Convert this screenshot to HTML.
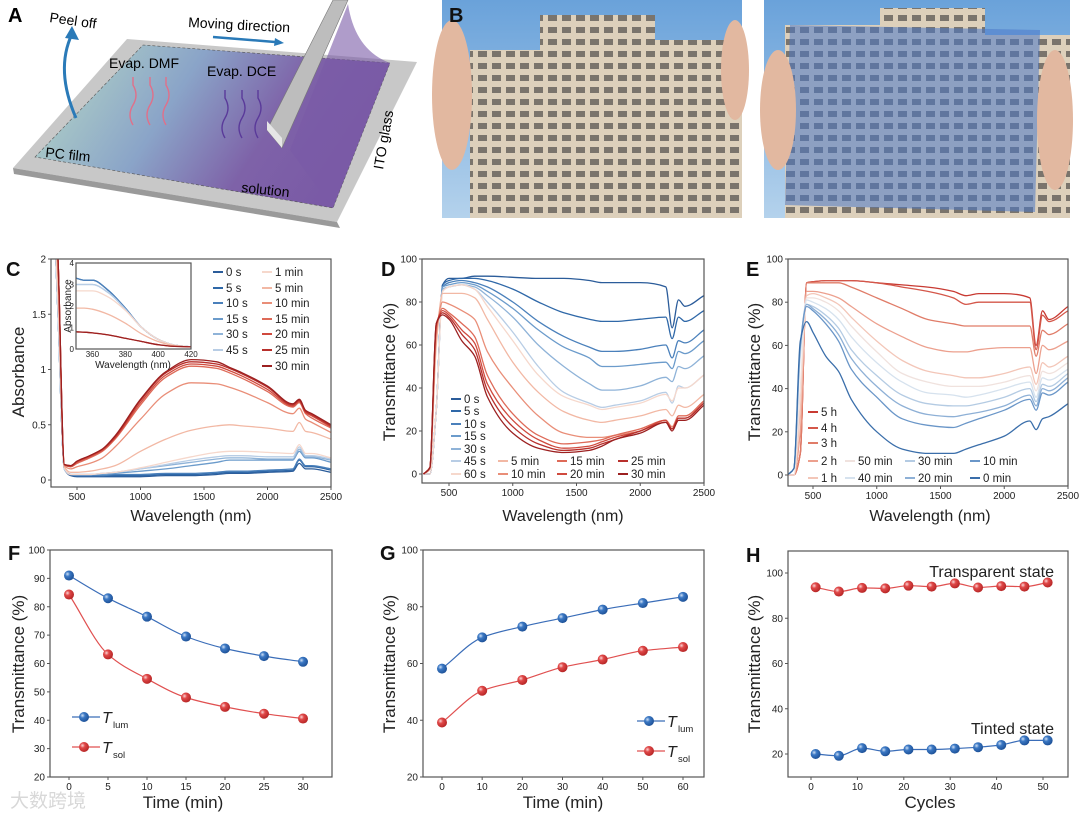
<!DOCTYPE html>
<html><head><meta charset="utf-8"><style>
html,body{margin:0;padding:0;background:#fff;}
svg{display:block;font-family:"Liberation Sans",Arial,sans-serif;}
</style></head><body>
<svg id="fig" width="1080" height="816" viewBox="0 0 1080 816">
<defs>
<linearGradient id="filmg" x1="0" y1="0" x2="1" y2="0.3"><stop offset="0" stop-color="#b9dcc6"/><stop offset="0.45" stop-color="#8aa4c8"/><stop offset="0.75" stop-color="#7e62a8"/><stop offset="1" stop-color="#7a5aa6"/></linearGradient>
<linearGradient id="skyg" x1="0" y1="0" x2="0" y2="1"><stop offset="0" stop-color="#6aa2da"/><stop offset="1" stop-color="#b4d2ec"/></linearGradient>
<pattern id="win" width="14" height="12" patternUnits="userSpaceOnUse"><rect width="14" height="12" fill="#ddd0bb"/><rect x="2" y="3" width="9" height="6" fill="#7a746c"/></pattern>
<radialGradient id="ballB" cx="0.35" cy="0.35" r="0.7"><stop offset="0" stop-color="#cfe0f5"/><stop offset="0.35" stop-color="#3b78c4"/><stop offset="1" stop-color="#1c4f95"/></radialGradient>
<radialGradient id="ballR" cx="0.35" cy="0.35" r="0.7"><stop offset="0" stop-color="#fbd5d5"/><stop offset="0.35" stop-color="#e04848"/><stop offset="1" stop-color="#b42424"/></radialGradient>
</defs>

<!-- Panel A -->
<g>
<polygon points="13,168 127,39 417,62 337,222" fill="#c8c8c8"/>
<polygon points="13,168 337,222 340,228 14,174" fill="#9a9a9a"/>
<polygon points="35,157 143,45 390,63 333,208" fill="url(#filmg)" stroke="#555" stroke-dasharray="3,2" stroke-width="0.6"/>
<polygon points="333,0 348,0 282,148 267,130" fill="#bdbdbd" stroke="#777" stroke-width="0.6"/>
<polygon points="267,130 282,148 282,138 267,121" fill="#e6e6e6"/>
<path d="M348,4 Q355,50 390,63 L333,208 L290,150 Z" fill="#7a5aa6" opacity="0.6"/>
<text x="8" y="22" font-size="20" font-weight="bold">A</text>
<text x="49" y="22" font-size="14" transform="rotate(8 49 22)">Peel off</text>
<path d="M76,118 Q55,70 72,34" fill="none" stroke="#2a7ab8" stroke-width="3"/>
<polygon points="65,38 72,26 79,40" fill="#2a7ab8"/>
<text x="188" y="27" font-size="14" transform="rotate(3 188 27)">Moving direction</text>
<line x1="213" y1="37" x2="275" y2="42" stroke="#2a7ab8" stroke-width="2.5"/>
<polygon points="275,38 284,43 274,46" fill="#2a7ab8"/>
<text x="109" y="68" font-size="14">Evap. DMF</text>
<text x="207" y="76" font-size="14">Evap. DCE</text>
<g fill="none" stroke="#e0708a" stroke-width="1.4">
<path d="M133,125 q-6,-10 0,-20 q6,-10 0,-20 v-8"/><path d="M150,125 q-6,-10 0,-20 q6,-10 0,-20 v-8"/><path d="M166,125 q-6,-10 0,-20 q6,-10 0,-20 v-8"/></g>
<g fill="none" stroke="#5a3a9a" stroke-width="1.4">
<path d="M225,138 q-6,-10 0,-20 q6,-10 0,-20 v-8"/><path d="M242,138 q-6,-10 0,-20 q6,-10 0,-20 v-8"/><path d="M258,138 q-6,-10 0,-20 q6,-10 0,-20 v-8"/></g>
<text x="45" y="157" font-size="14" transform="rotate(6 45 157)">PC film</text>
<text x="241" y="192" font-size="14" transform="rotate(6 241 192)">solution</text>
<text x="383" y="170" font-size="14" transform="rotate(-80 383 170)">ITO glass</text>
</g>

<!-- Panel B -->
<g>
<rect x="442" y="0" width="300" height="218" fill="url(#skyg)"/>
<rect x="470" y="50" width="70" height="168" fill="url(#win)"/>
<rect x="540" y="15" width="115" height="203" fill="url(#win)"/>
<rect x="655" y="40" width="87" height="178" fill="url(#win)"/>
<ellipse cx="452" cy="95" rx="20" ry="75" fill="#e2b8a0"/>
<ellipse cx="735" cy="70" rx="14" ry="50" fill="#e2b8a0"/>
<rect x="764" y="0" width="306" height="218" fill="url(#skyg)"/>
<rect x="785" y="25" width="95" height="193" fill="url(#win)"/>
<rect x="880" y="8" width="105" height="210" fill="url(#win)"/>
<rect x="985" y="35" width="85" height="183" fill="url(#win)"/>
<polygon points="790,25 1040,30 1035,212 785,205" fill="#4a78c8" opacity="0.55"/>
<ellipse cx="778" cy="110" rx="18" ry="60" fill="#e2b8a0"/>
<ellipse cx="1055" cy="120" rx="18" ry="70" fill="#e2b8a0"/>
<text x="449" y="22" font-size="20" font-weight="bold" fill="#111">B</text>
</g>

<g id="charts"></g>
</svg>
<script>
// ---------- Data ----------
const wl = [300,350,400,450,500,600,700,800,1000,1200,1400,1600,1700,1800,2000,2200,2250,2300,2350,2500];
// Panel C absorbance
const cLabels = ['0 s','5 s','10 s','15 s','30 s','45 s','1 min','5 min','10 min','15 min','20 min','25 min','30 min'];
const cColors = ['#2b5c9a','#2f68a8','#4a80bb','#6b9bcb','#8fb3d8','#b8cde5','#f6d8cc','#f2b8a4','#e98e78','#de6a58','#d04a3e','#b8302c','#9c2020'];
const cS0 = [3,1.5,0.1,0.04,0.03,0.03,0.03,0.03,0.03,0.04,0.04,0.05,0.06,0.06,0.07,0.08,0.15,0.1,0.1,0.07];
const cS1 = [3,1.5,0.1,0.05,0.04,0.04,0.04,0.04,0.04,0.05,0.05,0.06,0.07,0.07,0.08,0.09,0.18,0.12,0.12,0.09];
const cS2 = [3,1.5,0.1,0.05,0.04,0.04,0.04,0.05,0.05,0.06,0.06,0.07,0.08,0.08,0.09,0.1,0.19,0.13,0.13,0.1];
const cS3 = [3,1.5,0.1,0.05,0.05,0.05,0.05,0.06,0.08,0.1,0.13,0.16,0.18,0.18,0.18,0.18,0.26,0.2,0.2,0.16];
const cS4 = [3,1.5,0.1,0.05,0.05,0.05,0.06,0.07,0.1,0.13,0.16,0.19,0.2,0.2,0.19,0.19,0.28,0.21,0.21,0.18];
const cS5 = [3,1.5,0.1,0.05,0.05,0.05,0.06,0.07,0.1,0.14,0.18,0.21,0.22,0.22,0.21,0.21,0.3,0.22,0.22,0.19];
const cS6 = [3,1.6,0.11,0.05,0.05,0.05,0.06,0.07,0.11,0.16,0.21,0.25,0.26,0.26,0.25,0.24,0.32,0.24,0.24,0.2];
const cS7 = [3,1.8,0.12,0.07,0.07,0.08,0.1,0.13,0.26,0.37,0.45,0.49,0.5,0.49,0.47,0.44,0.52,0.44,0.43,0.37];
const cS8 = [3,1.9,0.13,0.1,0.12,0.15,0.2,0.3,0.55,0.78,0.88,0.87,0.84,0.8,0.7,0.6,0.65,0.55,0.52,0.43];
const cS9 = [3,2,0.14,0.12,0.15,0.2,0.26,0.37,0.68,0.93,1.03,1.01,0.97,0.92,0.8,0.66,0.7,0.6,0.56,0.47];
const cS10 = [3,2,0.14,0.12,0.16,0.21,0.27,0.38,0.7,0.95,1.05,1.03,0.99,0.94,0.82,0.67,0.71,0.61,0.58,0.48];
const cS11 = [3,2,0.14,0.13,0.17,0.22,0.28,0.39,0.72,0.97,1.07,1.05,1.01,0.96,0.84,0.68,0.72,0.62,0.59,0.49];
const cS12 = [3,2,0.14,0.13,0.17,0.22,0.28,0.4,0.73,0.98,1.09,1.07,1.02,0.97,0.85,0.69,0.73,0.63,0.6,0.5];
const cSeries = [cS0,cS1,cS2,cS3,cS4,cS5,cS6,cS7,cS8,cS9,cS10,cS11,cS12];
// Inset
const inWl = [350,355,360,370,380,390,400,410,420];
const inBlue = [3.3,3.2,3.2,2.7,1.9,1.0,0.45,0.18,0.1];
const inBlueL = [3.0,3.0,3.0,2.6,1.85,1.0,0.45,0.18,0.1];
const inPink = [2.7,2.7,2.7,2.4,1.8,1.0,0.45,0.18,0.1];
const in5 = [1.9,1.9,1.85,1.6,1.2,0.7,0.35,0.15,0.1];
const inRed = [0.8,0.78,0.75,0.65,0.5,0.35,0.2,0.12,0.1];
// Panel D
const dLabels = ['0 s','5 s','10 s','15 s','30 s','45 s','60 s','5 min','10 min','15 min','20 min','25 min','30 min'];
const dColors = ['#2b5c9a','#2f68a8','#4a80bb','#6b9bcb','#8fb3d8','#b8cde5','#f6d8cc','#f2b8a4','#e98e78','#de6a58','#d04a3e','#b8302c','#9c2020'];
const dS0 = [0,0,30,88,91,91,92,92,91.5,91,91,90,89,89,89,87,68,81,78,83];
const dS1 = [0,0,30,88,90,91,91,90,86,80,75,72,71,71,72,73,63,73,71,76];
const dS2 = [0,0,30,87,89,90,89,87,80,71,64,59,57,57,58,60,54,62,61,67];
const dS3 = [0,0,30,87,88,89,88,85,77,67,59,54,50,50,51,52,49,57,56,62];
const dS4 = [0,0,30,86,87,88,87,83,73,60,50,42,39,39,41,45,43,50,49,55];
const dS5 = [0,0,30,85,87,88,86,80,66,50,38,33,31,32,34,38,33,41,40,46];
const dS6 = [0,0,30,85,87,88,86,78,62,46,36,32,30,31,33,37,34,40,40,46];
const dS7 = [0,2,60,84,84,84,82,72,52,38,29,25,24,25,27,30,27,32,31,37];
const dS8 = [0,3,65,80,79,76,72,57,40,27,19,17,17,18,20,25,22,27,27,34];
const dS9 = [0,3,68,77,75,70,64,46,28,18,14,15,16,18,21,25,21,27,27,34];
const dS10 = [0,3,69,76,74,67,61,42,25,16,12,13,15,17,20,25,21,26,26,33];
const dS11 = [0,3,70,75,73,65,58,39,22,14,11,12,14,16,20,24,21,26,26,33];
const dS12 = [0,3,70,74,72,62,55,36,19,12,10,11,13,16,19,24,20,25,25,32];
const dSeries = [dS0,dS1,dS2,dS3,dS4,dS5,dS6,dS7,dS8,dS9,dS10,dS11,dS12];
// Panel E
const eLabels = ['5 h','4 h','3 h','2 h','1 h','50 min','40 min','30 min','20 min','10 min','0 min'];
const eColors = ['#c83a32','#d4574a','#e07c68','#eca08e','#f3c6b8','#f0e2de','#d6e2ee','#b4cbe3','#8eb0d6','#6a96c8','#3a6eaa'];
const eS0 = [0,0,10,89,89.5,90,90,90,89,88,87,85,83,84,84,82,60,76,72,78];
const eS1 = [0,0,10,89,89.5,90,90,90,89,87,85,82,79,80,80,80,58,74,71,76];
const eS2 = [0,0,10,89,89,89,89,87,82,77,72,70,69,69,69,69,55,67,65,70];
const eS3 = [0,0,20,85,85,84,82,78,70,64,59,57,57,58,59,59,47,60,58,62];
const eS4 = [0,0,30,83,84,82,79,73,62,53,48,46,45,45,47,50,42,52,50,55];
const eS5 = [0,0,40,82,82,80,76,69,57,47,43,41,41,41,43,46,39,48,47,52];
const eS6 = [0,3,55,81,80,77,72,64,52,43,38,37,36,37,40,43,36,45,44,49];
const eS7 = [0,3,58,79,78,74,68,58,46,37,33,32,32,33,36,40,34,42,41,47];
const eS8 = [0,3,60,79,77,72,65,54,41,32,28,27,28,29,32,37,32,40,39,45];
const eS9 = [0,3,60,78,76,70,62,49,36,26,23,22,24,26,30,35,30,38,37,43];
const eS10 = [0,3,62,71,66,55,48,35,20,12,10,10,12,14,18,25,21,26,27,33];
const eSeries = [eS0,eS1,eS2,eS3,eS4,eS5,eS6,eS7,eS8,eS9,eS10];
// Panel F
const fTime = [0,5,10,15,20,25,30];
const fLum = [91,83,76.5,69.5,65.3,62.6,60.6];
const fSol = [84.3,63.2,54.6,48,44.7,42.3,40.6];
// Panel G
const gTime = [0,10,20,30,40,50,60];
const gLum = [58.2,69.2,73,76,79,81.3,83.5];
const gSol = [39.2,50.4,54.2,58.7,61.4,64.5,65.8];
// Panel H
const hCycles = [1,6,11,16,21,26,31,36,41,46,51];
const hTrans = [93.7,91.8,93.4,93.2,94.4,94,95.4,93.6,94.2,94,95.8];
const hTint = [20,19.2,22.6,21.2,22,22,22.4,23,24,26,26];

// ---------- Helpers ----------
const NS='http://www.w3.org/2000/svg';
const root=document.getElementById('charts');
function el(tag,attrs,parent){const e=document.createElementNS(NS,tag);for(const k in attrs)e.setAttribute(k,attrs[k]);(parent||root).appendChild(e);return e;}
function txt(x,y,s,size,parent,anchor,extra){const t=el('text',Object.assign({x:x,y:y,'font-size':size,'text-anchor':anchor||'start',fill:'#222'},extra||{}),parent);t.textContent=s;return t;}
function scale(d0,d1,r0,r1){return v=>r0+(v-d0)*(r1-r0)/(d1-d0);}
// monotone cubic (Fritsch-Carlson) path in pixel space
function crPath(pts){const n=pts.length;if(n<2)return '';
 const dx=[],m=[],t=new Array(n);
 for(let i=0;i<n-1;i++){dx[i]=pts[i+1][0]-pts[i][0];m[i]=(pts[i+1][1]-pts[i][1])/dx[i];}
 t[0]=m[0];t[n-1]=m[n-2];
 for(let i=1;i<n-1;i++){if(m[i-1]*m[i]<=0)t[i]=0;else{const w1=2*dx[i]+dx[i-1],w2=dx[i]+2*dx[i-1];t[i]=(w1+w2)/(w1/m[i-1]+w2/m[i]);}}
 let d='M'+pts[0][0].toFixed(1)+','+pts[0][1].toFixed(1);
 for(let i=0;i<n-1;i++){const h=dx[i]/3;
  d+=' C'+(pts[i][0]+h).toFixed(1)+','+(pts[i][1]+t[i]*h).toFixed(1)+' '+(pts[i+1][0]-h).toFixed(1)+','+(pts[i+1][1]-t[i+1]*h).toFixed(1)+' '+pts[i+1][0].toFixed(1)+','+pts[i+1][1].toFixed(1);}
 return d;}
let clipN=0;
function frame(x0,y0,x1,y1,name){
 const g=el('g',{});
 
 
 const id='clip'+(clipN++);
 const cp=el('clipPath',{id:id},g);el('rect',{x:x0,y:y0,width:x1-x0,height:y1-y0},cp);
 const plot=el('g',{'clip-path':'url(#'+id+')'},g);
 const fr=el('rect',{x:x0,y:y0,width:x1-x0,height:y1-y0,fill:'none',stroke:'#555','stroke-width':1.2},g);
 
 
 return {g:g,plot:plot};}
function xTicks(g,vals,sx,yb,fs){vals.forEach(v=>{el('line',{x1:sx(v),x2:sx(v),y1:yb,y2:yb+3,stroke:'#555'},g);txt(sx(v),yb+13,String(v),fs||10,g,'middle');});}
function yTicks(g,vals,sy,xl,labs,fs){vals.forEach((v,i)=>{el('line',{x1:xl-3,x2:xl,y1:sy(v),y2:sy(v),stroke:'#555'},g);txt(xl-5,sy(v)+3.5,labs?labs[i]:String(v),fs||10,g,'end');});}
function ytitle(g,x,y,s,size){const t=txt(x,y,s,size,g,'middle',{transform:'rotate(-90 '+x+' '+y+')'});}
function xtitle(g,x,y,s,size){const t=txt(x,y,s,size,g,'middle');}
function panelLabel(g,x,y,s){const t=txt(x,y,s,20,g,'start',{'font-weight':'bold',fill:'#111'});}
function spectra(plot,xs,series,colors,sx,sy){series.forEach((s,i)=>{const p=el('path',{d:crPath(xs.map((w,j)=>[sx(w),sy(s[j])])),fill:'none',stroke:colors[i],'stroke-width':1.3},plot);
 
 });}
function legendEntry(g,x,y,col,label){const e=el('g',{},g);
 
 
 el('line',{x1:x,x2:x+10,y1:y,y2:y,stroke:col,'stroke-width':2},e);txt(x+13,y+4,label,11.5,e);}
function ballLine(plot,g,xs,ys,sx,sy,col,ball){const pts=xs.map((x,i)=>[sx(x),sy(ys[i])]);
 const p=el('path',{d:crPath(pts),fill:'none',stroke:col,'stroke-width':1.2},plot);
 
 
 pts.forEach(q=>{const c=el('circle',{cx:q[0],cy:q[1],r:5,fill:'url(#'+ball+')'},g);
  
  });}
function tLegend(g,x,y,col,ball,sub){el('line',{x1:x,x2:x+28,y1:y,y2:y,stroke:col,'stroke-width':1.2},g);el('circle',{cx:x+12,cy:y,r:5,fill:'url(#'+ball+')'},g);
 const t=el('text',{x:x+30,y:y+6,'font-size':16,'font-style':'italic',fill:'#222'},g);t.textContent='T';
 const s=el('text',{x:x+41,y:y+11,'font-size':9.5,fill:'#222'},g);s.textContent=sub;}

// ---------- Panel C ----------
(function(){const x0=51,x1=331,y0=259,y1=487;const sx=scale(500,2500,77,331),sy=scale(0,2,480,259);
 const f=frame(x0,y0,x1,y1,'panel-c-absorbance-chart');
 spectra(f.plot,wl,cSeries,cColors,sx,sy);
 xTicks(f.g,[500,1000,1500,2000,2500],sx,y1,10);
 yTicks(f.g,[0,0.5,1,1.5,2],sy,x0,['0','0.5','1','1.5','2'],10);
 ytitle(f.g,24,372,'Absorbance',17);xtitle(f.g,191,521,'Wavelength (nm)',16);panelLabel(f.g,6,276,'C');
 const ix0=76,ix1=191,iy0=263,iy1=349;const isx=scale(350,420,ix0,ix1),isy=scale(0,4,iy1,iy0);
 el('rect',{x:ix0,y:iy0,width:ix1-ix0,height:iy1-iy0,fill:'#fff'},f.g);
 const fi=frame(ix0,iy0,ix1,iy1,'inset-chart');f.g.appendChild(fi.g);
 const inS=[inBlue,inBlue,inBlueL,inBlueL,inPink,in5,inRed,inRed],inC=['#2b5c9a','#4a80bb','#8fb3d8','#b8cde5','#f6d8cc','#f2b8a4','#d04a3e','#9c2020'];
 spectra(fi.plot,inWl,inS,inC,isx,isy);
 [360,380,400,420].forEach(v=>txt(isx(v),iy1+8,String(v),8,fi.g,'middle'));
 [0,1,2,3,4].forEach(v=>txt(ix0-2,isy(v)+3,String(v),8,fi.g,'end'));
 txt(133,368,'Wavelength (nm)',10,fi.g,'middle');
 txt(71,306,'Absorbance',10,fi.g,'middle',{transform:'rotate(-90 71 306)'});
 const lg=el('g',{},f.g);
 const rowsY=[272,288,303,319,334,350,366];
 for(let i=0;i<6;i++)legendEntry(lg,213,rowsY[i],cColors[i],cLabels[i]);
 for(let i=6;i<13;i++)legendEntry(lg,262,rowsY[i-6],cColors[i],cLabels[i]);
})();

// ---------- Panel D ----------
(function(){const x0=422,x1=704,y0=259,y1=483;const sx=scale(500,2500,449,704),sy=scale(0,100,474,259);
 const f=frame(x0,y0,x1,y1,'panel-d-transmittance-chart');
 spectra(f.plot,wl,dSeries,dColors,sx,sy);
 xTicks(f.g,[500,1000,1500,2000,2500],sx,y1,10);
 yTicks(f.g,[0,20,40,60,80,100],sy,x0,null,10);
 ytitle(f.g,395,372,'Transmittance (%)',17);xtitle(f.g,563,521,'Wavelength (nm)',16);panelLabel(f.g,381,276,'D');
 const lg=el('g',{},f.g);
 const rows=[399,411,424,436,449,461,474];
 for(let i=0;i<7;i++)legendEntry(lg,451,rows[i],dColors[i],dLabels[i]);
 const cx=[498,557,618];
 for(let i=7;i<13;i++){const k=i-7;legendEntry(lg,cx[Math.floor(k/2)],rows[5+k%2],dColors[i],dLabels[i]);}
})();

// ---------- Panel E ----------
(function(){const x0=788,x1=1068,y0=259,y1=486;const sx=scale(500,2500,813,1068),sy=scale(0,100,475,259);
 const f=frame(x0,y0,x1,y1,'panel-e-transmittance-chart');
 spectra(f.plot,wl,eSeries,eColors,sx,sy);
 xTicks(f.g,[500,1000,1500,2000,2500],sx,y1,10);
 yTicks(f.g,[0,20,40,60,80,100],sy,x0,null,10);
 ytitle(f.g,760,372,'Transmittance (%)',17);xtitle(f.g,930,521,'Wavelength (nm)',16);panelLabel(f.g,746,276,'E');
 const lg=el('g',{},f.g);
 const rows=[412,428,443,461,478];
 for(let i=0;i<5;i++)legendEntry(lg,808,rows[i],eColors[i],eLabels[i]);
 const cx=[845,905,970];
 for(let i=5;i<11;i++){const k=i-5;legendEntry(lg,cx[Math.floor(k/2)],rows[3+k%2],eColors[i],eLabels[i]);}
})();

// ---------- Panel F ----------
(function(){const x0=50,x1=332,y0=550,y1=777;const sx=scale(0,30,69,303),sy=scale(20,100,777,550);
 const f=frame(x0,y0,x1,y1,'panel-f-chart');
 ballLine(f.plot,f.g,fTime,fLum,sx,sy,'#3a6db8','ballB');
 ballLine(f.plot,f.g,fTime,fSol,sx,sy,'#e05050','ballR');
 xTicks(f.g,fTime,sx,y1,10);
 yTicks(f.g,[20,30,40,50,60,70,80,90,100],sy,x0,null,10);
 ytitle(f.g,24,664,'Transmittance (%)',17);xtitle(f.g,183,808,'Time (min)',17);panelLabel(f.g,8,560,'F');
 const lg=el('g',{},f.g);
 tLegend(lg,72,717,'#3a6db8','ballB','lum');tLegend(lg,72,747,'#e05050','ballR','sol');
 const wm=txt(10,807,'大数跨境',19,f.g,'start',{fill:'#d8d8d8','font-family':'"Liberation Sans","Noto Sans CJK SC",sans-serif'});
 
})();

// ---------- Panel G ----------
(function(){const x0=423,x1=704,y0=550,y1=777;const sx=scale(0,60,442,683),sy=scale(20,100,777,550);
 const f=frame(x0,y0,x1,y1,'panel-g-chart');
 ballLine(f.plot,f.g,gTime,gLum,sx,sy,'#3a6db8','ballB');
 ballLine(f.plot,f.g,gTime,gSol,sx,sy,'#e05050','ballR');
 xTicks(f.g,gTime,sx,y1,10);
 yTicks(f.g,[20,40,60,80,100],sy,x0,null,10);
 ytitle(f.g,395,664,'Transmittance (%)',17);xtitle(f.g,563,808,'Time (min)',17);panelLabel(f.g,380,560,'G');
 const lg=el('g',{},f.g);
 tLegend(lg,637,721,'#3a6db8','ballB','lum');tLegend(lg,637,751,'#e05050','ballR','sol');
})();

// ---------- Panel H ----------
(function(){const x0=788,x1=1068,y0=551,y1=777;const sx=scale(0,50,811,1043),sy=scale(20,100,754,573);
 const f=frame(x0,y0,x1,y1,'panel-h-cycling-chart');
 ballLine(f.plot,f.g,hCycles,hTrans,sx,sy,'#e05050','ballR');
 ballLine(f.plot,f.g,hCycles,hTint,sx,sy,'#3a6db8','ballB');
 xTicks(f.g,[0,10,20,30,40,50],sx,y1,10);
 yTicks(f.g,[20,40,60,80,100],sy,x0,null,10);
 ytitle(f.g,760,664,'Transmittance (%)',17);xtitle(f.g,930,808,'Cycles',17);panelLabel(f.g,746,562,'H');
 const a=txt(1054,577,'Transparent state',16,f.g,'end');
 const b=txt(1054,734,'Tinted state',16,f.g,'end');
})();
</script>
</body></html>
